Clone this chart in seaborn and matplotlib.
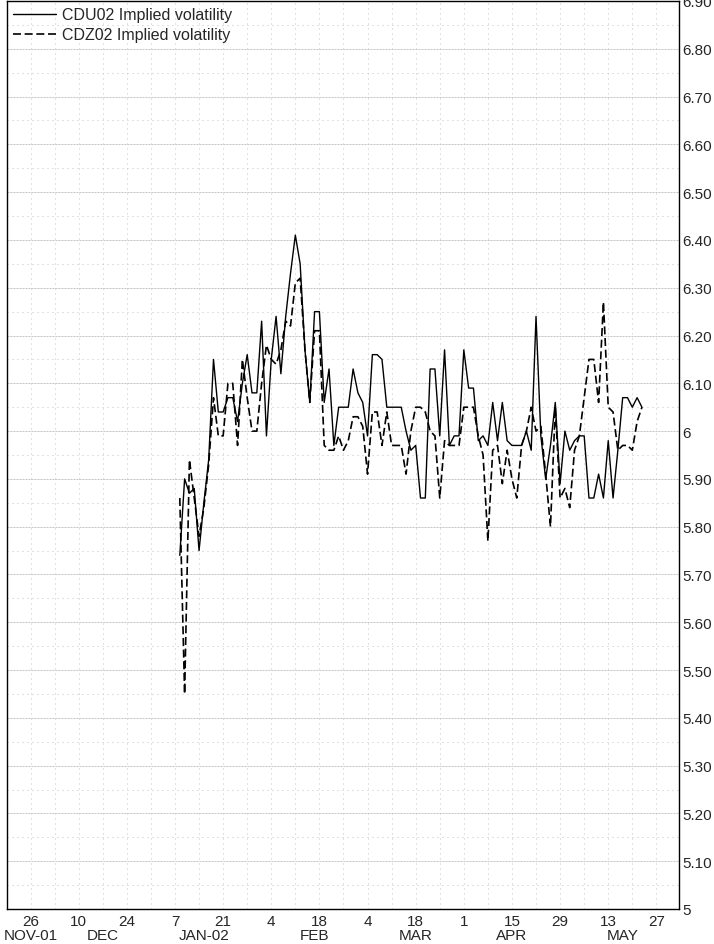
import numpy as np
import pandas as pd
import matplotlib
matplotlib.use('Agg')
import matplotlib.pyplot as plt
from matplotlib.ticker import MultipleLocator, FuncFormatter
import seaborn as sns

# trading days, Jan 8 - May 22 2002
dates = pd.bdate_range('2002-01-08', '2002-05-22')

cdu02 = [5.74, 5.90, 5.87, 5.88, 5.75, 5.85, 5.94, 6.15, 6.04, 6.04,
         6.07, 6.07, 6.02, 6.10, 6.16, 6.08, 6.08, 6.23, 5.99, 6.15,
         6.24, 6.12, 6.24, 6.33, 6.41, 6.35, 6.17, 6.06, 6.25, 6.25,
         6.06, 6.13, 5.97, 6.05, 6.05, 6.05, 6.13, 6.08, 6.06, 5.99,
         6.16, 6.16, 6.15, 6.05, 6.05, 6.05, 6.05, 6.00, 5.96, 5.97,
         5.86, 5.86, 6.13, 6.13, 5.99, 6.17, 5.97, 5.99, 5.99, 6.17,
         6.09, 6.09, 5.98, 5.99, 5.97, 6.06, 5.98, 6.06, 5.98, 5.97,
         5.97, 5.97, 6.00, 5.96, 6.24, 5.99, 5.90, 5.97, 6.06, 5.89,
         6.00, 5.96, 5.98, 5.99, 5.99, 5.86, 5.86, 5.91, 5.86, 5.98,
         5.86, 5.96, 6.07, 6.07, 6.05, 6.07, 6.05]

cdz02 = [5.86, 5.45, 5.94, 5.86, 5.78, 5.84, 5.93, 6.07, 5.99, 5.99,
         6.10, 6.10, 5.97, 6.15, 6.07, 6.00, 6.00, 6.10, 6.18, 6.15,
         6.14, 6.17, 6.23, 6.22, 6.31, 6.32, 6.17, 6.06, 6.21, 6.21,
         5.97, 5.96, 5.96, 5.99, 5.96, 5.98, 6.03, 6.03, 6.01, 5.91,
         6.04, 6.04, 5.97, 6.04, 5.97, 5.97, 5.97, 5.91, 6.00, 6.05,
         6.05, 6.04, 6.00, 5.99, 5.86, 5.98, 5.97, 5.97, 5.97, 6.05,
         6.05, 6.05, 5.99, 5.95, 5.77, 5.96, 5.97, 5.89, 5.96, 5.90,
         5.86, 5.97, 6.00, 6.05, 6.00, 6.01, 5.91, 5.80, 6.05, 5.86,
         5.88, 5.84, 5.96, 5.99, 6.07, 6.15, 6.15, 6.06, 6.27, 6.05,
         6.04, 5.96, 5.97, 5.97, 5.96, 6.02, 6.05]

tick_days = pd.date_range('2001-11-26', '2002-05-27', freq='14D')
grid_days = pd.date_range('2001-11-19', '2002-05-27', freq='7D')
month_labels = ['NOV-01', 'DEC', 'JAN-02', 'FEB', 'MAR', 'APR', 'MAY']
month_pos = pd.to_datetime(['2001-11-26', '2001-12-17', '2002-01-15', '2002-02-15',
                            '2002-03-18', '2002-04-15', '2002-05-16'])

# the chart runs on a business-day axis starting Monday Nov 19 2001
origin = np.datetime64('2001-11-19')
def bday(d):
    return np.busday_count(origin, np.asarray(d, dtype='datetime64[D]'))

df = pd.DataFrame({'bday': bday(dates), 'CDU02': cdu02, 'CDZ02': cdz02})

sns.set_style('white')
plt.rcParams['font.family'] = ['Liberation Sans', 'DejaVu Sans']

fig = plt.figure(figsize=(7.14, 9.45), dpi=100)
ax = fig.add_axes([6.5 / 714, 35 / 945, 672.5 / 714, 908 / 945])

sns.lineplot(x='bday', y='CDU02', data=df, color='black', lw=1.0,
             errorbar=None, label='CDU02 Implied volatility', ax=ax)
sns.lineplot(x='bday', y='CDZ02', data=df, color='black', lw=1.2,
             linestyle=(0, (4.8, 2.2)), errorbar=None,
             label='CDZ02 Implied volatility', ax=ax)

# y axis on the right
ax.set_ylim(5, 6.9)
ax.yaxis.set_major_locator(MultipleLocator(0.1))
ax.yaxis.set_minor_locator(MultipleLocator(0.05))
ax.yaxis.set_major_formatter(FuncFormatter(
    lambda v, p: str(int(round(v))) if abs(v - round(v)) < 1e-6 else '%.2f' % v))
ax.yaxis.tick_right()
ax.tick_params(axis='y', which='both', length=0, pad=2.5, labelsize=11)

# x axis
ax.set_xlim(0, 139.7)
ax.set_xticks(bday(tick_days))
ax.set_xticklabels([str(d.day) for d in tick_days])
ax.set_xticks(bday(grid_days), minor=True)
ax.tick_params(axis='x', which='both', length=0, pad=3.5, labelsize=11)
ax.set_xlabel('')
ax.set_ylabel('')

for pos, lab in zip(bday(month_pos), month_labels):
    ax.annotate(lab, xy=(pos, 0), xycoords=ax.get_xaxis_transform(),
                xytext=(0, -26.5 * 0.72), textcoords='offset points',
                ha='center', va='center', fontsize=11)

# dotted grid
ax.set_axisbelow(True)
ax.grid(which='major', axis='y', color='#c4c4c4', lw=0.72, linestyle=(0, (2, 1)))
ax.grid(which='minor', axis='y', color='#c4c4c4', lw=0.72, linestyle=(0, (1, 4)))
ax.grid(which='both', axis='x', color='#c4c4c4', lw=0.72, linestyle=(0, (1, 4)))

for s in ax.spines.values():
    s.set_color('black')
    s.set_linewidth(1.0)

ax.legend(loc='upper left', frameon=False, fontsize=11.5, handlelength=2.7,
          handletextpad=0.35, borderaxespad=0.2, borderpad=0.2, labelspacing=0.3)

fig.savefig('out.png', dpi=100)
